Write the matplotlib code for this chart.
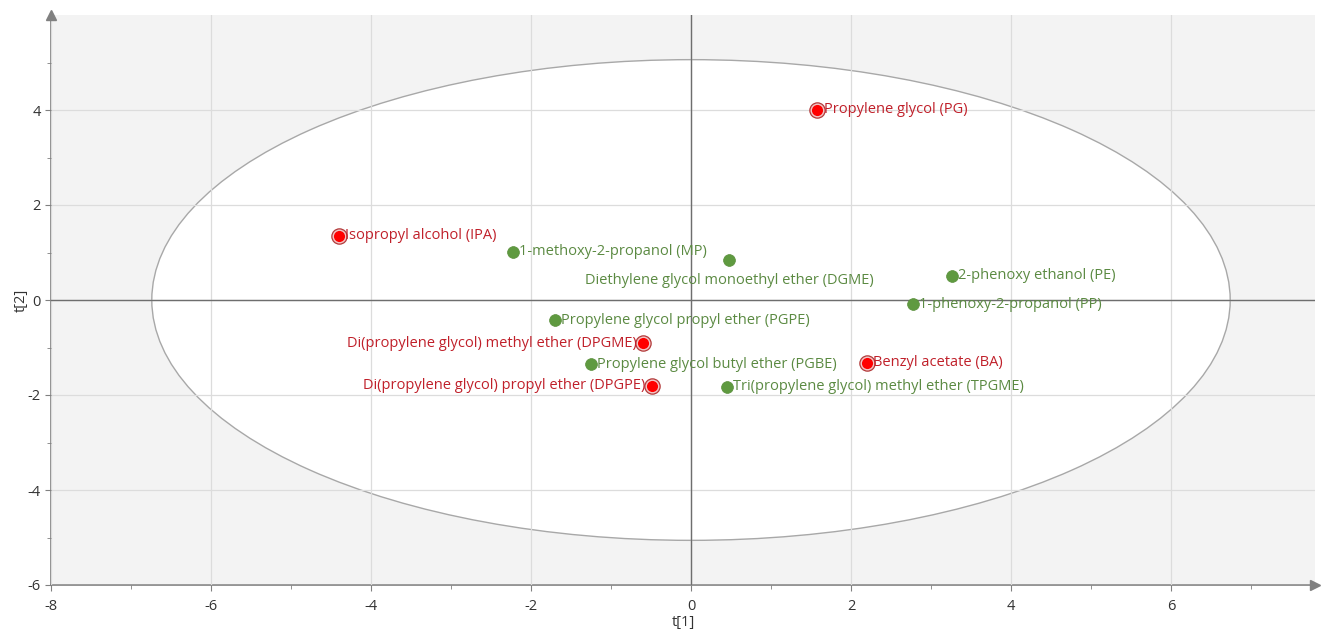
"""Score plot (t[1] vs t[2]) of solvents with Hotelling ellipse."""

import numpy as np
import matplotlib.pyplot as plt
from matplotlib.patches import Ellipse

plt.rcParams.update({
    'font.family': ['Open Sans', 'DejaVu Sans'],
    'axes.unicode_minus': False,
})

# solvent scores
names = [
    'Propylene glycol (PG)',
    'Isopropyl alcohol (IPA)',
    '1-methoxy-2-propanol (MP)',
    'Diethylene glycol monoethyl ether (DGME)',
    '2-phenoxy ethanol (PE)',
    '1-phenoxy-2-propanol (PP)',
    'Propylene glycol propyl ether (PGPE)',
    'Di(propylene glycol) methyl ether (DPGME)',
    'Propylene glycol butyl ether (PGBE)',
    'Benzyl acetate (BA)',
    'Di(propylene glycol) propyl ether (DPGPE)',
    'Tri(propylene glycol) methyl ether (TPGME)',
]
t1 = [1.58, -4.40, -2.23, 0.48, 3.26, 2.77, -1.70, -0.60, -1.25, 2.20, -0.49, 0.45]
t2 = [4.01, 1.35, 1.02, 0.84, 0.51, -0.09, -0.43, -0.91, -1.35, -1.32, -1.81, -1.83]
group = ['red', 'red', 'green', 'green', 'green', 'green',
         'green', 'red', 'green', 'red', 'red', 'green']
# label placement: r = right of point, l = left, b = below
placement = ['r', 'r', 'r', 'b', 'r', 'r', 'r', 'l', 'r', 'r', 'l', 'r']

ellipse_axes = (6.74, 5.06)

RED_TXT = '#c0202a'
GREEN_TXT = '#5b8a42'
GREEN_PT = '#5f9a40'
FS = 10.5

fig = plt.figure(figsize=(13.25, 6.34), dpi=100)
ax = fig.add_axes([51 / 1325, 49 / 634, 1264 / 1325, 570 / 634])
ax.set_facecolor('#f3f3f3')

ax.set_xlim(-8, 7.8)
ax.set_ylim(-6, 6)

# ellipse
ax.add_patch(Ellipse((0, 0), 2 * ellipse_axes[0], 2 * ellipse_axes[1],
                     facecolor='white', edgecolor='#a8a8a8', lw=1.0, zorder=1))

# grid
ax.set_xticks(np.arange(-8, 7, 2))
ax.set_yticks(np.arange(-6, 5, 2))
ax.set_xticks(np.arange(-7, 8, 2), minor=True)
ax.set_yticks(np.arange(-5, 6, 2), minor=True)
ax.grid(True, which='major', color='#dcdcdc', lw=0.9)
ax.set_axisbelow(False)

# zero lines
ax.axhline(0, color='#6e6e6e', lw=1.0, zorder=3)
ax.axvline(0, color='#6e6e6e', lw=1.0, zorder=3)

# spines with arrows
for side in ['top', 'right']:
    ax.spines[side].set_visible(False)
for side in ['left', 'bottom']:
    ax.spines[side].set_color('#808080')
    ax.spines[side].set_linewidth(1.2)
ax.plot(1, 0, '>', color='#808080', ms=7, transform=ax.transAxes,
        clip_on=False, zorder=5)
ax.plot(0, 1, '^', color='#808080', ms=7, transform=ax.transAxes,
        clip_on=False, zorder=5)

ax.tick_params(which='both', direction='out', color='#808080', labelsize=10.5,
               labelcolor='#333333')
ax.tick_params(which='major', length=4)
ax.tick_params(which='minor', length=3)
ax.set_xticklabels([str(v) for v in np.arange(-8, 7, 2)])
ax.set_yticklabels([str(v) for v in np.arange(-6, 5, 2)])
ax.tick_params(axis='x', pad=6)
ax.set_xlabel('t[1]', fontsize=10.5, color='#333333', labelpad=1)
ax.set_ylabel('t[2]', fontsize=10.5, color='#333333', labelpad=-1)

# points and labels
for name, x, y, g, p in zip(names, t1, t2, group, placement):
    if g == 'red':
        ax.plot(x, y, 'o', ms=11, mfc='#f2c4c4', mec='#b23a3a', mew=0.9, zorder=6)
        ax.plot(x, y, 'o', ms=8, mfc='#ff0000', mec='none', zorder=7)
        tc = RED_TXT
    else:
        ax.plot(x, y, 'o', ms=8.5, mfc=GREEN_PT, mec='#5a8f3c', mew=0.5, zorder=6)
        tc = GREEN_TXT
    if p == 'r':
        ax.annotate(name, (x, y), xytext=(4.5, 0), textcoords='offset points',
                    ha='left', va='center', fontsize=FS, color=tc, zorder=8)
    elif p == 'l':
        ax.annotate(name, (x, y), xytext=(-4.5, 0), textcoords='offset points',
                    ha='right', va='center', fontsize=FS, color=tc, zorder=8)
    else:
        ax.annotate(name, (x, y), xytext=(0, -14.5), textcoords='offset points',
                    ha='center', va='center', fontsize=FS, color=tc, zorder=8)

fig.savefig('out.png', dpi=100)
